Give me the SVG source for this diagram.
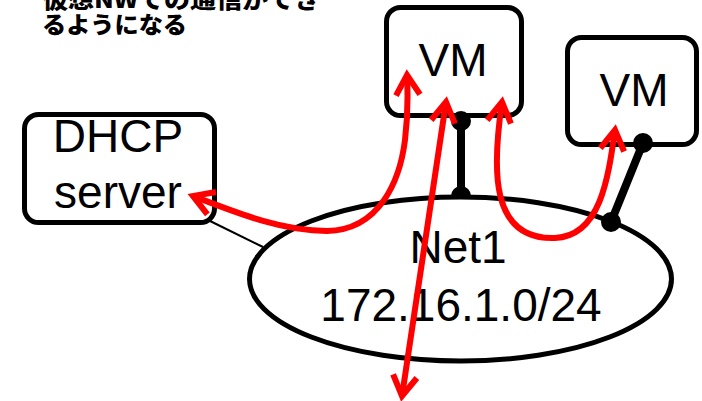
<svg xmlns="http://www.w3.org/2000/svg" width="702" height="401" viewBox="0 0 702 401">
<defs>
<style>
.box{fill:#fff;stroke:#000;stroke-width:5}
.lbl{font-family:"Liberation Sans",Arial,sans-serif;font-size:46px;fill:#000;text-anchor:middle}
.cap{font-family:"Noto Sans CJK JP","Liberation Sans",sans-serif;font-size:23px;font-weight:900;fill:#000}
.link{stroke:#000;stroke-width:8;fill:none}
.red{stroke:#f00;stroke-width:6;fill:none;marker-end:url(#ah);marker-start:url(#ah)}
</style>
<marker id="ah" markerUnits="userSpaceOnUse" viewBox="0 0 24 28" refX="22" refY="14" markerWidth="24" markerHeight="28" orient="auto-start-reverse" overflow="visible">
<path d="M 2,2 L 22,14 L 2,26" fill="none" stroke="#f00" stroke-width="6" stroke-linejoin="miter"/>
</marker>
</defs>
<g id="caption">
<text class="cap" x="42" y="8" textLength="278" lengthAdjust="spacingAndGlyphs">仮想NWでの通信ができ</text>
<text class="cap" x="42" y="33" textLength="145" lengthAdjust="spacingAndGlyphs">るようになる</text>
</g>
<g id="connectors">
<line x1="208" y1="220" x2="263" y2="247" stroke="#000" stroke-width="2"/>
<g id="vm1-link">
<line class="link" x1="461" y1="121" x2="461" y2="195"/>
<circle cx="461" cy="196" r="10"/>
</g>
</g>
<g id="net1">
<ellipse cx="460.5" cy="279" rx="211" ry="82" fill="#fff" stroke="#000" stroke-width="5"/>
<text class="lbl" x="458" y="263">Net1</text>
<text class="lbl" x="461" y="321">172.16.1.0/24</text>
</g>
<g id="dhcp">
<rect class="box" x="24.5" y="114.5" width="190" height="108" rx="14"/>
<text class="lbl" x="118" y="152">DHCP</text>
<text class="lbl" x="118" y="208">server</text>
</g>
<g id="vm1">
<rect class="box" x="386.5" y="7.5" width="135" height="108" rx="14"/>
<text class="lbl" x="453" y="76">VM</text>
<circle cx="461" cy="121" r="10"/>
</g>
<g id="vm2">
<rect class="box" x="567.5" y="37.5" width="129" height="107" rx="14"/>
<text class="lbl" x="634" y="106">VM</text>
</g>
<g id="vm2-link">
<line class="link" x1="643" y1="143" x2="611" y2="222"/>
<circle cx="643" cy="143" r="10"/>
<circle cx="611" cy="222" r="10"/>
</g>
<g id="flows">
<path class="red" d="M 193,196 C 240,214 282,231 327,231 C 380,230 400,180 405,140 C 408,115 408,95 407,75"/>
<path class="red" d="M 446,102 L 402,396"/>
<path class="red" d="M 502,102 C 492,170 490,240 555,238 C 600,236 608,180 615,130"/>
</g>
</svg>
